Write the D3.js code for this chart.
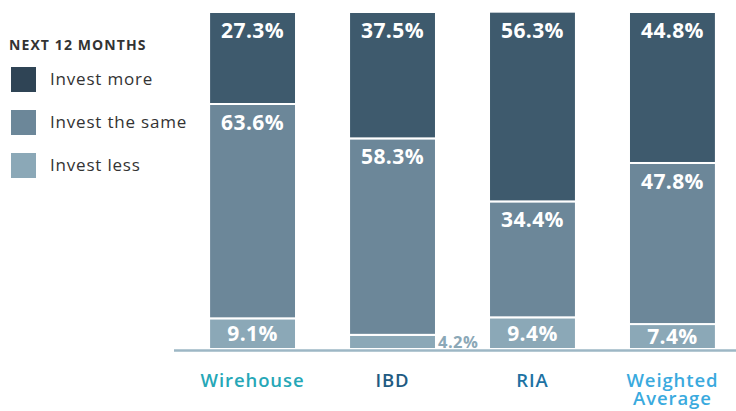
<!DOCTYPE html>
<html>
<head>
<meta charset="utf-8">
<script src="https://cdn.jsdelivr.net/npm/d3@7"></script>
<style>
  body { margin: 0; background: #fff; }
  svg { display: block; font-family: "Open Sans", Lato, sans-serif; }
</style>
</head>
<body>
<div id="chart"></div>
<script>
// data
const categories = ["Wirehouse", "IBD", "RIA", "Weighted Average"];
const investLess = [9.1, 4.2, 9.4, 7.4];
const investSame = [63.6, 58.3, 34.4, 47.8];
const investMore = [27.3, 37.5, 56.3, 44.8];
const seriesKeys = ["less", "same", "more"];
const seriesNames = ["Invest more", "Invest the same", "Invest less"];

const width = 736, height = 411;
const barColour = { more: "#3e5a6d", same: "#6c8799", less: "#8ba8b7" };
const legendColour = ["#2f4455", "#6c8799", "#8ba8b7"];
const catColour = ["#26a7b7", "#1f5b82", "#1d72a3", "#3aaade"];

const rows = categories.map((c, i) => ({
  cat: c, less: investLess[i], same: investSame[i], more: investMore[i]
}));

const svg = d3.select("#chart").append("svg")
  .attr("width", width)
  .attr("height", height);

const x = d3.scaleBand()
  .domain(categories)
  .range([182.5, 742.5])
  .paddingInner(0.379)
  .paddingOuter(0.19);

const y = d3.scaleLinear().domain([0, 100]).range([349, 12]);

const stacked = d3.stack().keys(seriesKeys)(rows);

// bars
const layers = svg.selectAll(".layer")
  .data(stacked)
  .join("g")
  .attr("class", "layer")
  .attr("fill", d => barColour[d.key]);

layers.selectAll("rect")
  .data(d => d.map(p => ({ key: d.key, p: p })))
  .join("rect")
  .attr("x", d => x(d.p.data.cat))
  .attr("width", x.bandwidth())
  .attr("y", d => y(d.p[1]))
  .attr("height", d => y(d.p[0]) - y(d.p[1]))
  .attr("stroke", "#fff")
  .attr("stroke-width", 2);

// value labels
stacked.forEach(layer => {
  layer.forEach(p => {
    const v = p[1] - p[0];
    const cx = x(p.data.cat) + x.bandwidth() / 2;
    if (layer.key === "less") {
      if (v < 6) {
        svg.append("text")
          .attr("x", x(p.data.cat) + x.bandwidth() + 2)
          .attr("y", y(0) - 1)
          .attr("font-size", 16.5)
          .attr("font-weight", 700)
          .attr("letter-spacing", 0.5)
          .attr("fill", "#8ba8b7")
          .text(v.toFixed(1) + "%");
      } else {
        svg.append("text")
          .attr("x", cx)
          .attr("y", (y(p[0]) + y(p[1])) / 2 + 7.5)
          .attr("text-anchor", "middle")
          .attr("font-size", 21)
          .attr("font-weight", 700)
          .attr("letter-spacing", 0.4)
          .attr("fill", "#fff")
          .text(v.toFixed(1) + "%");
      }
    } else {
      svg.append("text")
        .attr("x", cx)
        .attr("y", y(p[1]) + 26)
        .attr("text-anchor", "middle")
        .attr("font-size", 21)
        .attr("font-weight", 700)
        .attr("letter-spacing", 0.4)
        .attr("fill", "#fff")
        .text(v.toFixed(1) + "%");
    }
  });
});

// baseline
svg.append("line")
  .attr("x1", 174).attr("x2", width)
  .attr("y1", y(0) + 1.5).attr("y2", y(0) + 1.5)
  .attr("stroke", "#9db7c5")
  .attr("stroke-width", 2.5);

// category labels, "Weighted Average" on two lines
categories.forEach((c, i) => {
  const words = c === "Weighted Average" ? ["Weighted", "Average"] : [c];
  words.forEach((w, j) => {
    svg.append("text")
      .attr("x", x(c) + x.bandwidth() / 2)
      .attr("y", 387 + j * 18)
      .attr("text-anchor", "middle")
      .attr("font-size", 18.5)
      .attr("font-weight", 600)
      .attr("letter-spacing", 0.9)
      .attr("fill", catColour[i])
      .text(w);
  });
});

// legend
const legend = svg.append("g").attr("transform", "translate(10,0)");
legend.append("text")
  .attr("x", -1).attr("y", 50)
  .attr("font-size", 14)
  .attr("font-weight", 700)
  .attr("letter-spacing", 1.1)
  .attr("fill", "#333")
  .text("NEXT 12 MONTHS");

legend.selectAll("rect")
  .data(seriesNames)
  .join("rect")
  .attr("x", 1)
  .attr("y", (d, i) => 67 + i * 43)
  .attr("width", 25)
  .attr("height", 25)
  .attr("fill", (d, i) => legendColour[i]);

legend.selectAll(".legend-text")
  .data(seriesNames)
  .join("text")
  .attr("class", "legend-text")
  .attr("x", 40)
  .attr("y", (d, i) => 85 + i * 43)
  .attr("font-size", 17)
  .attr("letter-spacing", 0.8)
  .attr("fill", "#333")
  .text(d => d);
</script>
</body>
</html>
